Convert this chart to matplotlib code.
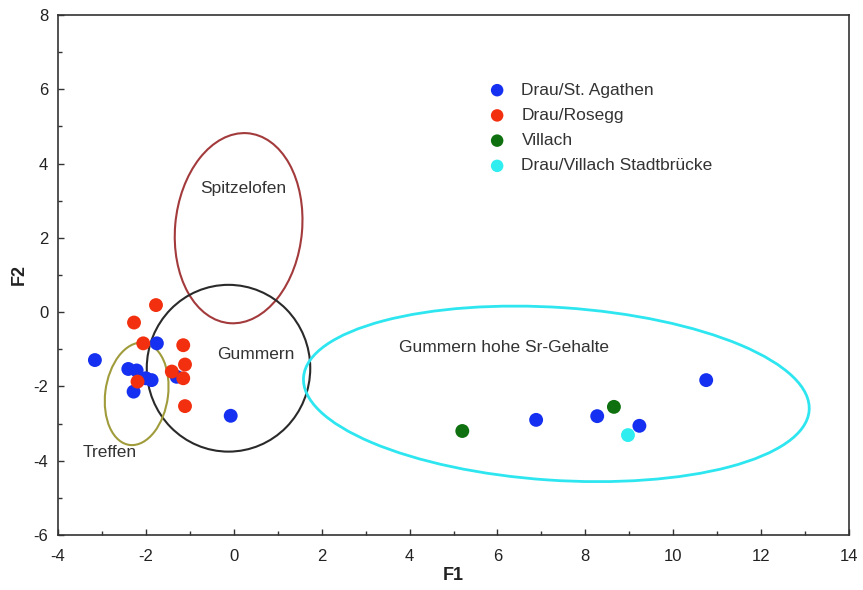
import numpy as np
import matplotlib
matplotlib.use("Agg")
import matplotlib.pyplot as plt
from matplotlib.patches import Ellipse
from matplotlib.ticker import MultipleLocator

plt.rcParams["font.family"] = ["Liberation Sans", "DejaVu Sans"]
plt.rcParams["axes.unicode_minus"] = False

# --- scores (F1, F2) per sampling site ---
agathen_f1 = [-3.16, -1.75, -2.40, -2.21, -2.00, -1.87, -2.28, -1.30, -0.07, 6.88, 8.27, 9.23, 10.75]
agathen_f2 = [-1.29, -0.84, -1.53, -1.57, -1.78, -1.83, -2.14, -1.74, -2.79, -2.90, -2.80, -3.06, -1.83]

rosegg_f1 = [-1.77, -2.27, -2.06, -1.15, -1.11, -1.41, -1.15, -2.19, -1.11]
rosegg_f2 = [0.19, -0.28, -0.84, -0.89, -1.41, -1.60, -1.78, -1.87, -2.53]

villach_f1 = [5.20, 8.65]
villach_f2 = [-3.20, -2.55]

stadt_f1 = [8.97]
stadt_f2 = [-3.31]

# --- reference group ellipses: name, centre x, centre y, width, height, angle ---
ell_names = ["Spitzelofen", "Gummern", "Treffen", "Gummern hohe Sr-Gehalte"]
ell_cx = [0.11, -0.12, -2.21, 7.34]
ell_cy = [2.26, -1.51, -2.20, -2.20]
ell_w = [2.89, 3.72, 1.43, 11.54]
ell_h = [5.13, 4.49, 2.77, 4.65]
ell_angle = [-4.2, 0.0, -6.0, -4.6]
ell_colors = ["#a33a3c", "#2a2a2a", "#a09c3c", "#2ee6f0"]
ell_lw = [1.5, 1.5, 1.5, 2.0]

# label positions for the ellipses
lab_x = [0.22, 0.50, -3.43, 3.75]
lab_y = [3.33, -1.15, -3.79, -0.94]
lab_ha = ["center", "center", "left", "left"]

fig = plt.figure(figsize=(8.63, 5.90), dpi=100)
ax = fig.add_axes([0.0672, 0.0932, 0.9166, 0.8814])

for i in range(len(ell_names)):
    e = Ellipse((ell_cx[i], ell_cy[i]), ell_w[i], ell_h[i], angle=ell_angle[i],
                fill=False, edgecolor=ell_colors[i], linewidth=ell_lw[i], zorder=2)
    ax.add_patch(e)
    ax.text(lab_x[i], lab_y[i], ell_names[i], ha=lab_ha[i], va="center",
            fontsize=12.5, color="#333333", zorder=4)

ms = 100
ax.scatter(agathen_f1, agathen_f2, s=ms, color="#1530f0", edgecolor="none", label="Drau/St. Agathen", zorder=3)
ax.scatter(rosegg_f1, rosegg_f2, s=ms, color="#f2300f", edgecolor="none", label="Drau/Rosegg", zorder=3)
ax.scatter(villach_f1, villach_f2, s=ms, color="#0f700f", edgecolor="none", label="Villach", zorder=3)
ax.scatter(stadt_f1, stadt_f2, s=ms, color="#30eef0", edgecolor="none", label="Drau/Villach Stadtbrücke", zorder=3)

ax.set_xlim(-4, 14)
ax.set_ylim(-6, 8)
ax.xaxis.set_major_locator(MultipleLocator(2))
ax.xaxis.set_minor_locator(MultipleLocator(1))
ax.yaxis.set_major_locator(MultipleLocator(2))
ax.yaxis.set_minor_locator(MultipleLocator(1))
ax.tick_params(which="both", direction="in", top=False, right=False,
               labelsize=12, labelcolor="#222222", color="#333333")
ax.tick_params(which="major", length=4, width=1)
ax.tick_params(which="minor", length=3, width=1)
ax.tick_params(axis="x", which="major", pad=10)
ax.tick_params(axis="y", which="major", pad=7)
for sp in ax.spines.values():
    sp.set_linewidth(1.2)
    sp.set_color("#333333")

ax.set_xlabel("F1", fontsize=13, fontweight="bold", color="#222222", labelpad=2)
ax.set_ylabel("F2", fontsize=13, fontweight="bold", color="#222222", labelpad=4)

ax.legend(loc="upper left", bbox_to_anchor=(0.542, 0.870), frameon=False,
          fontsize=12.5, handlelength=1.2, handletextpad=0.8, labelspacing=0.58,
          borderpad=0, borderaxespad=0, scatterpoints=1, markerscale=0.9,
          labelcolor="#333333")

fig.savefig("out.png", dpi=100)
